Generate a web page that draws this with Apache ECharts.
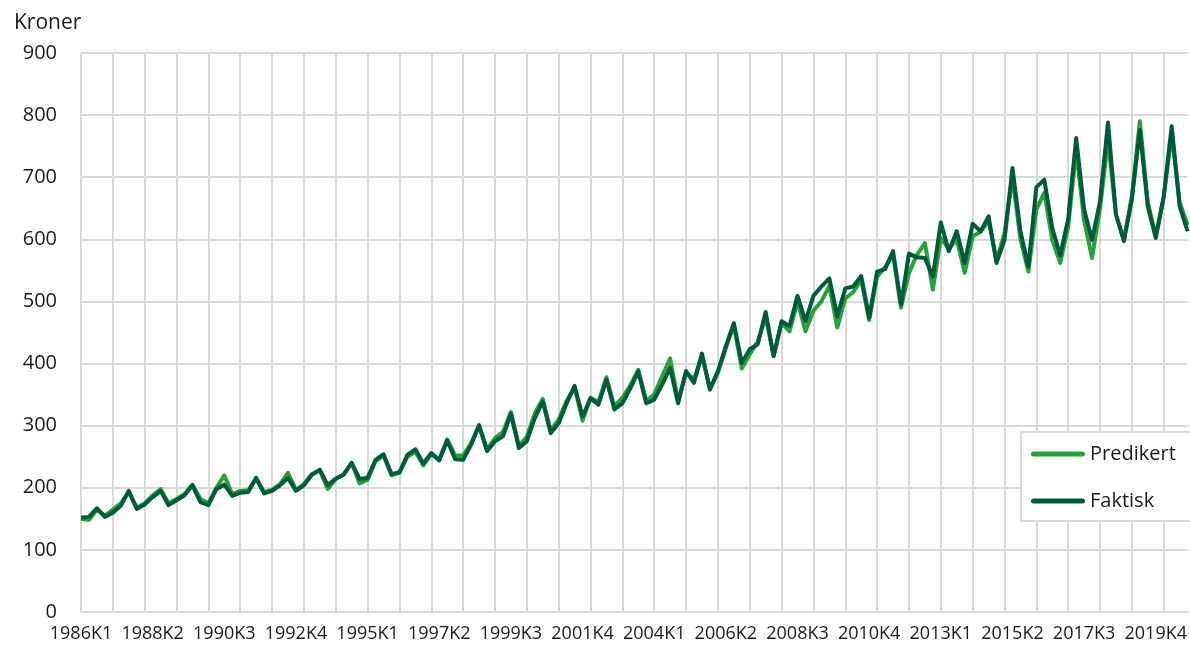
<!DOCTYPE html>
<html>
<head>
<meta charset="utf-8">
<script src="https://cdn.jsdelivr.net/npm/echarts@6/dist/echarts.min.js"></script>
<style>
  html, body { margin: 0; padding: 0; background: #fff; }
  #chart { width: 1190px; height: 648px; }
</style>
</head>
<body>
<div id="chart"></div>
<script>
  // kvartaler 1986K1 - 2020K4
  const firstYear = 1986
  const lastYear = 2020
  const quarters = []
  for (let y = firstYear; y <= lastYear; y++) {
    for (let q = 1; q <= 4; q++) quarters.push(y + 'K' + q)
  }

  const predikert = [
    150, 148, 165, 155, 165, 175, 193, 168, 175, 188, 198, 175, 182, 190, 205, 182,
    175, 200, 220, 190, 195, 196, 215, 193, 197, 206, 224, 197, 206, 222, 228, 198,
    214, 222, 240, 207, 213, 243, 252, 220, 224, 250, 258, 236, 254, 246, 278, 252,
    252, 272, 300, 262, 280, 290, 322, 268, 282, 320, 343, 292, 310, 340, 362, 308,
    345, 338, 378, 331, 345, 365, 390, 340, 350, 380, 408, 340, 385, 375, 412, 360,
    385, 425, 462, 392, 415, 435, 475, 412, 465, 452, 500, 452, 485, 500, 525, 458,
    505, 515, 535, 470, 540, 555, 575, 490, 546, 575, 594, 519, 602, 585, 600, 546,
    605, 612, 630, 565, 610, 700, 600, 548, 648, 675, 599, 562, 620, 745, 630, 570,
    650, 760, 640, 600, 670, 790, 660, 605, 668, 770, 660, 623
  ]

  const faktisk = [
    152, 153, 167, 153, 160, 171, 195, 166, 173, 185, 195, 172, 180, 188, 204, 177,
    172, 198, 205, 187, 192, 193, 216, 191, 195, 204, 216, 195, 204, 221, 229, 204,
    215, 221, 240, 214, 216, 245, 254, 222, 225, 253, 262, 239, 256, 244, 276, 246,
    245, 269, 301, 259, 275, 283, 319, 264, 275, 312, 339, 288, 304, 336, 364, 315,
    344, 334, 374, 326, 336, 360, 387, 336, 342, 366, 393, 336, 388, 369, 416, 358,
    388, 428, 465, 401, 423, 431, 483, 412, 468, 460, 509, 468, 509, 524, 537, 476,
    521, 524, 541, 474, 548, 552, 581, 495, 577, 571, 570, 540, 627, 581, 613, 562,
    625, 613, 637, 562, 599, 715, 613, 556, 684, 696, 618, 574, 633, 763, 648, 599,
    661, 788, 640, 597, 664, 776, 653, 602, 669, 782, 653, 613
  ]

  const lightGreen = '#27a23b'
  const darkGreen = '#005a3c'
  const gridColor = '#d9d9d9'
  const font = 'Open Sans'
  // avrundet strek som legend-ikon
  const lineIcon = 'path://M2.5,0 H51.5 A2.5,2.5 0 0 1 51.5,5 H2.5 A2.5,2.5 0 0 1 2.5,0 Z'

  const myChart = echarts.init(document.getElementById('chart'))
  myChart.setOption({
    animation: false,
    textStyle: { fontFamily: font, color: '#1a1a1a' },
    title: {
      text: 'Kroner',
      left: 9,
      top: 8,
      textStyle: { fontFamily: font, fontSize: 21, fontWeight: 'normal', color: '#1a1a1a' }
    },
    grid: {
      left: 81,
      right: 2,
      top: 53,
      bottom: 36
    },
    legend: {
      orient: 'vertical',
      left: 1021,
      top: 432,
      padding: [12, 24, 10, 10],
      itemWidth: 54,
      itemHeight: 20,
      itemGap: 27,
      icon: lineIcon,
      backgroundColor: '#fff',
      borderColor: gridColor,
      borderWidth: 2,
      textStyle: { fontFamily: font, fontSize: 20, color: '#1a1a1a' },
      data: ['Predikert', 'Faktisk']
    },
    xAxis: {
      type: 'category',
      boundaryGap: false,
      data: quarters,
      axisLine: { show: true, lineStyle: { color: gridColor, width: 2 } },
      axisTick: { show: false },
      axisLabel: {
        interval: 8,
        margin: 13,
        fontSize: 18,
        fontFamily: font,
        color: '#1a1a1a'
      },
      splitLine: {
        show: true,
        interval: 3,
        lineStyle: { color: gridColor, width: 2 }
      }
    },
    yAxis: {
      type: 'value',
      min: 0,
      max: 900,
      interval: 100,
      axisLine: { show: false },
      axisTick: { show: false },
      axisLabel: { fontSize: 20, margin: 24, fontFamily: font, color: '#1a1a1a' },
      splitLine: { lineStyle: { color: gridColor, width: 2 } }
    },
    series: [
      {
        name: 'Predikert',
        type: 'line',
        data: predikert,
        symbol: 'none',
        lineStyle: { color: lightGreen, width: 4, join: 'round' },
        itemStyle: { color: lightGreen }
      },
      {
        name: 'Faktisk',
        type: 'line',
        data: faktisk,
        symbol: 'none',
        lineStyle: { color: darkGreen, width: 4, join: 'round' },
        itemStyle: { color: darkGreen }
      }
    ]
  })
</script>
</body>
</html>
